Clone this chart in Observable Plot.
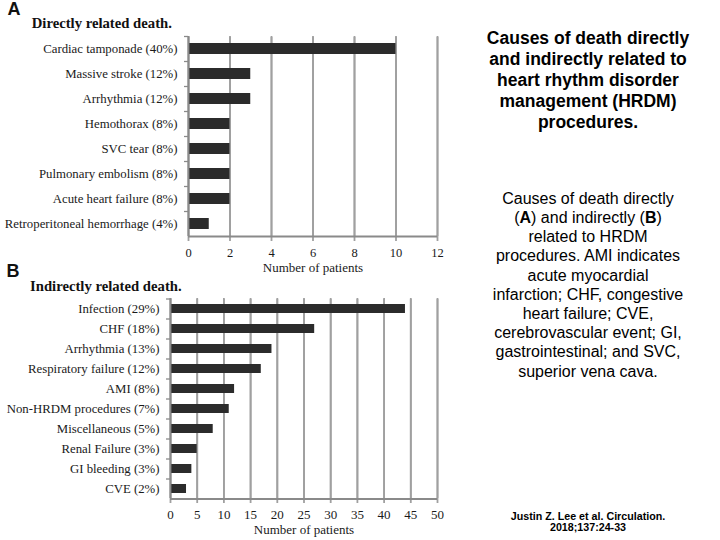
<!DOCTYPE html>
<html>
<head>
<meta charset="utf-8">
<script src="https://cdn.jsdelivr.net/npm/d3@7"></script>
<script src="https://cdn.jsdelivr.net/npm/@observablehq/plot@0.6"></script>
<style>
  html, body { margin: 0; padding: 0; background: #fff; }
  body { width: 720px; height: 540px; position: relative; overflow: hidden; }
  .abs { position: absolute; white-space: nowrap; }
  .panel { font-family: Arial, "Liberation Sans", sans-serif; font-weight: bold; font-size: 18px; line-height: 18px; color: #111; }
  .ptitle { font-family: "Liberation Serif", "Times New Roman", serif; font-weight: bold; font-size: 14.7px; line-height: 14.7px; color: #111; }
  .right { left: 458px; width: 260px; text-align: center; font-family: Arial, "Liberation Sans", sans-serif; color: #000; }
  .title { font-weight: bold; font-size: 17.5px; line-height: 21px; }
  .desc { font-size: 16px; line-height: 19.2px; }
  .cite { font-weight: bold; font-size: 10.7px; line-height: 11px; }
  #chartA, #chartB { position: absolute; left: 0; }
  #chartA { top: 0; }
  #chartB { top: 280px; }
</style>
</head>
<body>
<div class="abs panel" style="left:7.5px; top:0px;">A</div>
<div class="abs ptitle" style="left:31.7px; top:16.2px;">Directly related death.</div>
<div class="abs panel" style="left:6.5px; top:262px;">B</div>
<div class="abs ptitle" style="left:30px; top:278.7px;">Indirectly related death.</div>

<div class="abs right title" style="top:28.4px;">Causes of death directly<br>and indirectly related to<br>heart rhythm disorder<br>management (HRDM)<br>procedures.</div>
<div class="abs right desc" style="top:188.8px;">Causes of death directly<br>(<b>A</b>) and indirectly (<b>B</b>)<br>related to HRDM<br>procedures. AMI indicates<br>acute myocardial<br>infarction; CHF, congestive<br>heart failure; CVE,<br>cerebrovascular event; GI,<br>gastrointestinal; and SVC,<br>superior vena cava.</div>
<div class="abs right cite" style="top:510.8px;">Justin Z. Lee et al. Circulation.<br>2018;137:24-33</div>

<div id="chartA"></div>
<div id="chartB"></div>

<script>
// ---- Data ----
const causesA = [
  "Cardiac tamponade (40%)",
  "Massive stroke (12%)",
  "Arrhythmia (12%)",
  "Hemothorax (8%)",
  "SVC tear (8%)",
  "Pulmonary embolism (8%)",
  "Acute heart failure (8%)",
  "Retroperitoneal hemorrhage (4%)"
];
const patientsA = [10, 3, 3, 2, 2, 2, 2, 1];
const ticksA = [0, 2, 4, 6, 8, 10, 12];

const causesB = [
  "Infection (29%)",
  "CHF (18%)",
  "Arrhythmia (13%)",
  "Respiratory failure (12%)",
  "AMI (8%)",
  "Non-HRDM procedures (7%)",
  "Miscellaneous (5%)",
  "Renal Failure (3%)",
  "GI bleeding (3%)",
  "CVE (2%)"
];
const patientsB = [44, 27, 19, 17, 12, 11, 8, 5, 4, 3];
const ticksB = [0, 5, 10, 15, 20, 25, 30, 35, 40, 45, 50];

const xLabel = "Number of patients";

function makeChart(cats, vals, ticks, o) {
  const data = cats.map((c, i) => ({cause: c, n: vals[i]}));
  const innerH = o.height - o.mt - o.mb;
  const step = innerH / cats.length;
  const axisGray = "#8a8a8a";
  const gridGray = "#a0a0a0";
  const lw = 1.8;
  const x0 = ticks[0], x1 = ticks[ticks.length - 1];
  const last = cats[cats.length - 1];
  return Plot.plot({
    width: 450,
    height: o.height,
    marginLeft: o.ml,
    marginRight: o.mr,
    marginTop: o.mt,
    marginBottom: o.mb,
    style: {
      fontFamily: "'Liberation Serif', 'Times New Roman', serif",
      fontSize: "12.8px",
      color: "#1a1a1a"
    },
    x: {domain: [x0, x1], label: null},
    y: {domain: cats, paddingInner: o.pad, paddingOuter: o.pad / 2, label: null},
    marks: [
      // vertical grid lines
      Plot.ruleX(ticks, {stroke: gridGray, strokeWidth: lw}),
      Plot.axisX(ticks, {anchor: "top", tickSize: -(innerH + 4), tickFormat: () => "", stroke: gridGray, strokeWidth: lw, label: null}),
      Plot.barX(data, {x: "n", y: "cause", fill: "#2b2b2b"}),
      // left axis line
      Plot.ruleX([x0], {stroke: axisGray, strokeWidth: lw}),
      // bottom axis line
      Plot.ruleY([last], {dy: step / 2, stroke: axisGray, strokeWidth: lw}),
      // small y ticks at category boundaries
      Plot.ruleY(cats, {y: d => d, dy: -step / 2, x1: x0, x2: x0, insetLeft: -4, stroke: axisGray, strokeWidth: 1.3}),
      Plot.axisX(ticks, {tickSize: 0, tickPadding: o.tp + 4, fill: "#1a1a1a", fontSize: o.tickFont, label: null}),
      Plot.axisY({tickSize: 0, tickPadding: 11, fill: "#1a1a1a", label: null}),
      Plot.text([xLabel], {text: d => d, frameAnchor: "bottom", dy: o.labelDy, fontSize: 13, fill: "#1a1a1a"})
    ]
  });
}

document.getElementById("chartA").append(
  makeChart(causesA, patientsA, ticksA, {height: 280, ml: 188, mr: 13, mt: 36, mb: 44, pad: 0.56, tp: 7.4, tickFont: 12.5, labelDy: 35.6})
);
document.getElementById("chartB").append(
  makeChart(causesB, patientsB, ticksB, {height: 260, ml: 170, mr: 13, mt: 18, mb: 42, pad: 0.57, tp: 7.7, tickFont: 13, labelDy: 35.6})
);
</script>
</body>
</html>
